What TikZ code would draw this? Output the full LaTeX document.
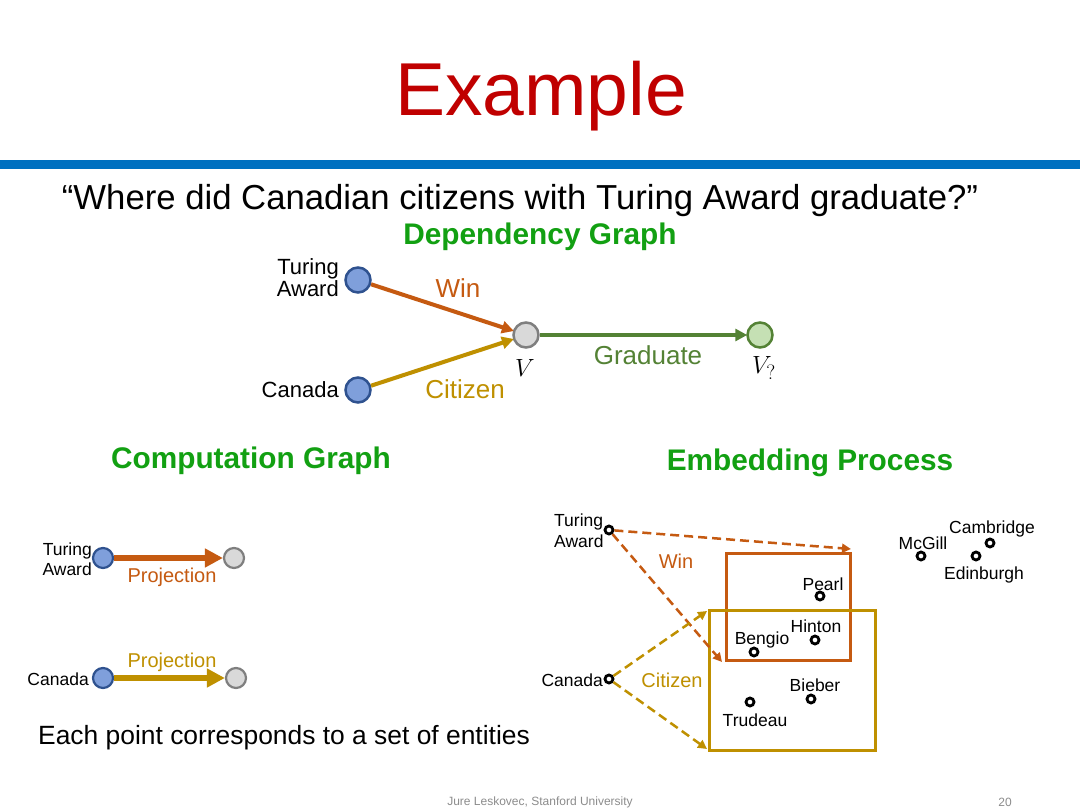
\documentclass[tikz,border=0pt]{standalone}
\usepackage{fontspec}
\setmainfont{Liberation Sans}
\usetikzlibrary{arrows.meta}
\definecolor{titlered}{HTML}{C00000}
\definecolor{barblue}{HTML}{0070C0}
\definecolor{headgreen}{HTML}{12A012}
\definecolor{wino}{HTML}{C55A11}
\definecolor{citg}{HTML}{BF9000}
\definecolor{gradg}{HTML}{548235}
\definecolor{entf}{HTML}{7F9FDB}
\definecolor{entb}{HTML}{2F528F}
\definecolor{varf}{HTML}{D9D9D9}
\definecolor{varb}{HTML}{7F7F7F}
\definecolor{ansf}{HTML}{C5E0B4}
\definecolor{footg}{HTML}{8C8C8C}
\tikzset{
  ent/.style={circle, draw=entb, fill=entf, line width=2.5pt, minimum size=25pt, inner sep=0pt},
  varn/.style={circle, draw=varb, fill=varf, line width=2.5pt, minimum size=25pt, inner sep=0pt},
  ansn/.style={circle, draw=gradg, fill=ansf, line width=2.5pt, minimum size=25pt, inner sep=0pt},
  sent/.style={ent, minimum size=20pt, line width=2.2pt},
  svar/.style={varn, minimum size=20pt, line width=2.2pt},
  dotn/.style={circle, draw=black, fill=white, line width=2.8pt, minimum size=8pt, inner sep=0pt},
  lbl/.style={inner sep=0pt, font=\fontsize{17.5}{19}\selectfont},
  dedge/.style={line width=4pt, -{Triangle[length=12pt, width=12pt]}, shorten >=-1pt},
  cedge/.style={line width=6pt, -{Triangle[length=18pt, width=18pt]}},
  eedge/.style={line width=2.5pt, dash pattern=on 9pt off 5pt, -{Triangle[length=9pt, width=9pt]}},
  head/.style={inner sep=0pt, text=headgreen, font=\bfseries\fontsize{29.8}{32}\selectfont},
}
\begin{document}
\begin{tikzpicture}[x=1pt, y=-1pt]
\path[use as bounding box, fill=white] (0,0) rectangle (1080,810);
% title and bar
\node[inner sep=0pt, anchor=base, text=titlered, font=\fontsize{75}{80}\selectfont] (title) at (541,116) {Example};
\fill[barblue] (0,160) rectangle (1080,169);
\node[inner sep=0pt, anchor=base, font=\fontsize{34.7}{36}\selectfont] (q) at (520,210) {“Where did Canadian citizens with Turing Award graduate?”};
% dependency graph
\node[head] (hdep) at (540,237) {Dependency Graph};
\node[ent] (ta) at (358,280) {};
\node[ent] (ca) at (358,390) {};
\node[varn] (v) at (526,335) {};
\node[ansn] (va) at (760,335) {};
\node[lbl, font=\fontsize{22}{22}\selectfont, align=right, anchor=east] (tal) at (339,278) {Turing\\Award};
\node[lbl, font=\fontsize{22}{22}\selectfont, anchor=east] (cal) at (339,390) {Canada};
\draw[dedge, wino] (ta) -- (v);
\draw[dedge, citg] (ca) -- (v);
\draw[dedge, gradg] (v) -- (va);
\node[lbl, text=wino, font=\fontsize{26}{26}\selectfont] (winl) at (458,288) {Win};
\node[lbl, text=citg, font=\fontsize{26}{26}\selectfont] (citl) at (465,389) {Citizen};
\node[lbl, text=gradg, font=\fontsize{26}{26}\selectfont] (gradl) at (648,355) {Graduate};
\node[lbl, font=\fontsize{28}{28}\selectfont] (vl) at (525,368) {$V$};
\node[lbl, font=\fontsize{28}{28}\selectfont] (val) at (764,368) {$V_{?}$};
% headings
\node[head] (hcomp) at (251,461) {Computation Graph};
\node[head] (hemb) at (810,463) {Embedding Process};
% computation graph
\node[sent] (cta) at (103,558) {};
\node[svar] (cg1) at (234,558) {};
\node[sent] (cca) at (103,678) {};
\node[svar] (cg2) at (236,678) {};
\draw[cedge, wino] (cta) -- (cg1);
\draw[cedge, citg] (cca) -- (cg2);
\node[lbl, align=right, anchor=east, font=\fontsize{17.5}{20}\selectfont] (ctal) at (92,559) {Turing\\Award};
\node[lbl, anchor=east] (ccal) at (89,679) {Canada};
\node[lbl, text=wino, font=\fontsize{20}{20}\selectfont] (p1) at (172,577) {Projection};
\node[lbl, text=citg, font=\fontsize{20}{20}\selectfont] (p2) at (172,662) {Projection};
\node[inner sep=0pt, anchor=base west, font=\fontsize{26.4}{28}\selectfont] (each) at (38,744) {Each point corresponds to a set of entities};
% embedding process
\draw[wino, line width=3pt] (726,553) rectangle (850,660);
\draw[citg, line width=3pt] (709,610) rectangle (875,750);
\node[dotn] (eta) at (609,530) {};
\node[dotn] (eca) at (609,679) {};
\node[lbl, align=left, anchor=west, font=\fontsize{17.5}{21}\selectfont] (etal) at (554,531) {Turing\\Award};
\node[lbl, anchor=east] (ecal) at (603,680) {Canada};
\coordinate (w1) at (851,549);
\coordinate (w2) at (722,662);
\coordinate (c1) at (707,611);
\coordinate (c2) at (707,749);
\draw[eedge, wino] (eta) -- (w1);
\draw[eedge, wino] (eta) -- (w2);
\draw[eedge, citg] (eca) -- (c1);
\draw[eedge, citg] (eca) -- (c2);
\node[lbl, text=wino, font=\fontsize{20}{20}\selectfont] (ewin) at (676,561) {Win};
\node[lbl, text=citg, font=\fontsize{20}{20}\selectfont] (ecit) at (672,680) {Citizen};
\node[dotn] (pearl) at (820,596) {};
\node[lbl] (pearll) at (823,584) {Pearl};
\node[dotn] (hinton) at (815,640) {};
\node[lbl] (hintonl) at (816,626) {Hinton};
\node[dotn] (bengio) at (754,652) {};
\node[lbl] (bengiol) at (762,640) {Bengio};
\node[dotn] (bieber) at (811,699) {};
\node[lbl] (bieberl) at (815,685) {Bieber};
\node[dotn] (trudeau) at (750,702) {};
\node[lbl] (trudeaul) at (755,720) {Trudeau};
\node[dotn] (mcgill) at (921,556) {};
\node[lbl] (mcgilll) at (923,543) {McGill};
\node[dotn] (camb) at (990,543) {};
\node[lbl] (cambl) at (992,529) {Cambridge};
\node[dotn] (edin) at (976,556) {};
\node[lbl] (edinl) at (984,575) {Edinburgh};
% footer
\node[inner sep=0pt, text=footg, font=\fontsize{12}{12}\selectfont] (foot) at (540,802) {Jure Leskovec, Stanford University};
\node[inner sep=0pt, text=footg, font=\fontsize{12}{12}\selectfont] (pg) at (1005,802) {20};
\end{tikzpicture}
\end{document}
